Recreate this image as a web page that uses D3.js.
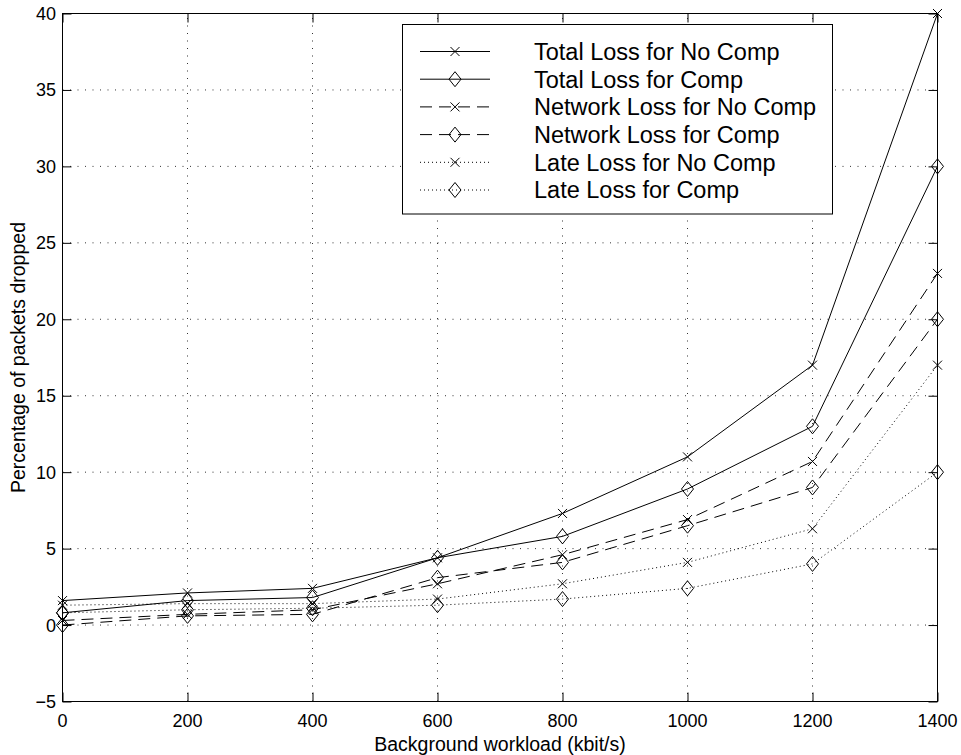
<!DOCTYPE html>
<html>
<head>
<meta charset="utf-8">
<script src="https://cdn.jsdelivr.net/npm/d3@7"></script>
<style>
  html, body { margin: 0; padding: 0; background: #fff; }
  svg { display: block; font-family: "Liberation Sans", Arial, Helvetica, sans-serif; }
</style>
</head>
<body>
<svg id="chart" width="961" height="755"></svg>
<script>
// Background workload (kbit/s)
const workload = [0, 200, 400, 600, 800, 1000, 1200, 1400];

// Percentage of packets dropped
const totalNoComp   = [1.6, 2.1, 2.4, 4.4, 7.3, 11.0, 17.0, 40.0];
const totalComp     = [0.8, 1.6, 1.8, 4.4, 5.8, 8.9, 13.0, 30.0];
const networkNoComp = [0.3, 0.7, 1.0, 2.7, 4.6, 6.9, 10.7, 23.0];
const networkComp   = [0.0, 0.6, 0.7, 3.1, 4.1, 6.5, 9.0, 20.0];
const lateNoComp    = [1.3, 1.4, 1.4, 1.7, 2.7, 4.1, 6.3, 17.0];
const lateComp      = [0.8, 1.0, 1.1, 1.3, 1.7, 2.4, 4.0, 10.0];

const seriesNames = [
  "Total Loss for No Comp",
  "Total Loss for Comp",
  "Network Loss for No Comp",
  "Network Loss for Comp",
  "Late Loss for No Comp",
  "Late Loss for Comp"
];

const xTicks = [0, 200, 400, 600, 800, 1000, 1200, 1400];
const yTicks = [-5, 0, 5, 10, 15, 20, 25, 30, 35, 40];

const styles = {
  solid:  null,
  dashed: "12,7",
  dotted: "1,3"
};

const series = [
  { name: seriesNames[0], values: totalNoComp,   dash: styles.solid,  marker: "cross" },
  { name: seriesNames[1], values: totalComp,     dash: styles.solid,  marker: "diamond" },
  { name: seriesNames[2], values: networkNoComp, dash: styles.dashed, marker: "cross" },
  { name: seriesNames[3], values: networkComp,   dash: styles.dashed, marker: "diamond" },
  { name: seriesNames[4], values: lateNoComp,    dash: styles.dotted, marker: "cross" },
  { name: seriesNames[5], values: lateComp,      dash: styles.dotted, marker: "diamond" }
];

const svg = d3.select("#chart");

const plotL = 62.5, plotR = 937.5, plotT = 13.5, plotB = 701.5;
const x = d3.scaleLinear().domain([0, 1400]).range([plotL, plotR]);
const y = d3.scaleLinear().domain([-5, 40]).range([plotB, plotT]);

// dotted grid
const grid = svg.append("g").attr("stroke", "#333").attr("stroke-width", 1)
  .attr("stroke-dasharray", "1,6.5");
grid.selectAll(".gx").data(xTicks.slice(1, -1)).join("line")
  .attr("x1", d => x(d)).attr("x2", d => x(d))
  .attr("y1", plotB).attr("y2", plotT);
grid.selectAll(".gy").data(yTicks.slice(1, -1)).join("line")
  .attr("x1", plotL).attr("x2", plotR)
  .attr("y1", d => y(d)).attr("y2", d => y(d));

// axes with inward ticks on all four sides
const tickLen = 9;
const axLeft = svg.append("g").attr("transform", `translate(${plotL},0)`)
  .call(d3.axisRight(y).tickValues(yTicks).tickSize(tickLen).tickFormat(""));
const axRight = svg.append("g").attr("transform", `translate(${plotR},0)`)
  .call(d3.axisLeft(y).tickValues(yTicks).tickSize(tickLen).tickFormat(""));
const axBottom = svg.append("g").attr("transform", `translate(0,${plotB})`)
  .call(d3.axisTop(x).tickValues(xTicks).tickSize(tickLen).tickFormat(""));
const axTop = svg.append("g").attr("transform", `translate(0,${plotT})`)
  .call(d3.axisBottom(x).tickValues(xTicks).tickSize(tickLen).tickFormat(""));
[axLeft, axRight, axBottom, axTop].forEach(a => {
  a.select(".domain").remove();
  a.selectAll("line").attr("stroke", "#000").attr("stroke-width", 1);
});

// frame
svg.append("rect")
  .attr("x", plotL).attr("y", plotT)
  .attr("width", plotR - plotL).attr("height", plotB - plotT)
  .attr("fill", "none").attr("stroke", "#000").attr("stroke-width", 1);

// tick labels
const fmt = d => d < 0 ? "\u2212" + Math.abs(d) : String(d);
svg.append("g").selectAll("text").data(yTicks).join("text")
  .attr("x", 56).attr("y", d => y(d)).attr("dy", "0.36em")
  .attr("text-anchor", "end").attr("font-size", 18).text(fmt);
svg.append("g").selectAll("text").data(xTicks).join("text")
  .attr("x", d => x(d)).attr("y", 727)
  .attr("text-anchor", "middle").attr("font-size", 18).text(fmt);

// axis titles
svg.append("text").attr("x", (plotL + plotR) / 2).attr("y", 751)
  .attr("text-anchor", "middle").attr("font-size", 19.5)
  .text("Background workload (kbit/s)");
svg.append("text")
  .attr("transform", `translate(25,${(plotT + plotB) / 2}) rotate(-90)`)
  .attr("text-anchor", "middle").attr("font-size", 19.5)
  .text("Percentage of packets dropped");

// markers
function drawMarker(g, type, cx, cy) {
  if (type === "cross") {
    const s = 4.5;
    g.append("path")
      .attr("d", `M${cx - s},${cy - s}L${cx + s},${cy + s}M${cx - s},${cy + s}L${cx + s},${cy - s}`)
      .attr("stroke", "#000").attr("stroke-width", 1).attr("fill", "none");
  } else {
    const w = 6, h = 7.5;
    g.append("path")
      .attr("d", `M${cx},${cy - h}L${cx + w},${cy}L${cx},${cy + h}L${cx - w},${cy}Z`)
      .attr("stroke", "#000").attr("stroke-width", 1).attr("fill", "none");
  }
}

const line = d3.line().x((d, i) => x(workload[i])).y(d => y(d));
const plot = svg.append("g");
series.forEach(s => {
  plot.append("path").datum(s.values)
    .attr("d", line)
    .attr("fill", "none").attr("stroke", "#000").attr("stroke-width", 1)
    .attr("stroke-dasharray", s.dash);
  const mg = plot.append("g");
  s.values.forEach((v, i) => drawMarker(mg, s.marker, x(workload[i]), y(v)));
});

// legend
const lg = svg.append("g");
lg.append("rect").attr("x", 402.5).attr("y", 24.5).attr("width", 430).attr("height", 189.5)
  .attr("fill", "#fff").attr("stroke", "#000").attr("stroke-width", 1);
series.forEach((s, i) => {
  const ly = 51.5 + i * 27.7;
  lg.append("line").attr("x1", 420).attr("x2", 490).attr("y1", ly).attr("y2", ly)
    .attr("stroke", "#000").attr("stroke-width", 1).attr("stroke-dasharray", s.dash);
  drawMarker(lg, s.marker, 455, ly);
  lg.append("text").attr("x", 534).attr("y", ly).attr("dy", "0.36em")
    .attr("font-size", 23.5).text(s.name);
});
</script>
</body>
</html>
